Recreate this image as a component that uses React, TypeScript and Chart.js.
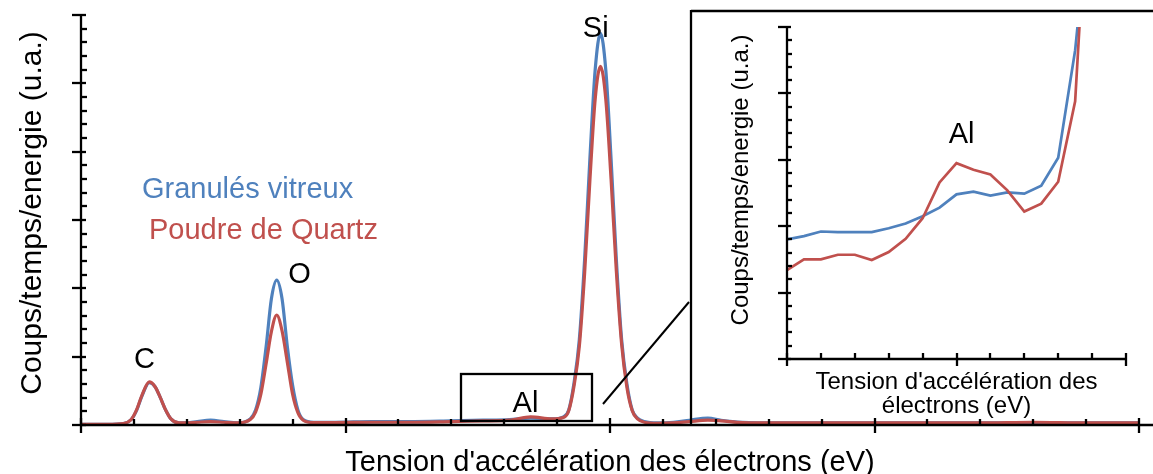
import React, { useEffect, useRef } from "react";
import { Chart, registerables } from "chart.js";

Chart.register(...registerables);

// ---------- data (main spectrum) ----------
const energy = [
  0, 0.5, 0.8, 0.95, 1.05, 1.15, 1.29, 1.4, 1.5, 1.6,
  1.7, 1.85, 2.0, 2.2, 2.45, 2.7, 2.95, 3.2, 3.3, 3.4,
  3.5, 3.6, 3.7, 3.8, 3.9, 4.0, 4.1, 4.2, 4.4, 4.8,
  5.5, 6.2, 7.0, 7.6, 8.1, 8.5, 8.9, 9.12, 9.22, 9.32,
  9.42, 9.52, 9.62, 9.72, 9.82, 9.92, 10.02, 10.12, 10.22, 10.32,
  10.42, 10.52, 10.65, 10.9, 11.2, 11.5, 11.85, 12.1, 12.5, 13.2,
  14, 15, 16, 17, 18, 19, 20,
];
const granulesVitreux = [
  0.01, 0.01, 0.02, 0.08, 0.21, 0.42, 0.62, 0.56, 0.40, 0.22,
  0.09, 0.03, 0.03, 0.05, 0.07, 0.05, 0.03, 0.09, 0.22, 0.55,
  1.15, 1.85, 2.12, 1.85, 1.15, 0.58, 0.22, 0.08, 0.04, 0.04,
  0.05, 0.05, 0.06, 0.07, 0.08, 0.10, 0.09, 0.12, 0.22, 0.62,
  1.25, 2.42, 3.9, 5.2, 5.73, 5.2, 3.9, 2.42, 1.25, 0.6,
  0.22, 0.1, 0.05, 0.03, 0.04, 0.07, 0.1, 0.07, 0.04, 0.03,
  0.03, 0.03, 0.03, 0.03, 0.03, 0.03, 0.03,
];
const poudreQuartz = [
  0.01, 0.01, 0.02, 0.08, 0.22, 0.43, 0.63, 0.56, 0.40, 0.22,
  0.09, 0.03, 0.03, 0.04, 0.05, 0.04, 0.03, 0.08, 0.19, 0.45,
  0.90, 1.37, 1.61, 1.38, 0.92, 0.45, 0.18, 0.07, 0.035, 0.035,
  0.04, 0.04, 0.05, 0.06, 0.07, 0.12, 0.09, 0.11, 0.21, 0.57,
  1.15, 2.22, 3.58, 4.77, 5.25, 4.77, 3.6, 2.25, 1.18, 0.55,
  0.21, 0.09, 0.04, 0.025, 0.03, 0.05, 0.07, 0.06, 0.035, 0.03,
  0.03, 0.03, 0.03, 0.03, 0.04, 0.03, 0.03,
];

// ---------- data (inset, Al region) ----------
const insetEnergy = [0, 0.5, 1, 1.5, 2, 2.5, 3, 3.5, 4, 4.5, 5, 5.5, 6, 6.5, 7, 7.5, 8, 8.5, 9];
const insetGranules = [1.80, 1.85, 1.92, 1.91, 1.91, 1.91, 1.97, 2.04, 2.15, 2.28, 2.48, 2.52, 2.46, 2.51, 2.49, 2.61, 3.03, 4.65, 7.2];
const insetQuartz = [1.34, 1.50, 1.50, 1.57, 1.57, 1.49, 1.61, 1.81, 2.12, 2.66, 2.95, 2.85, 2.78, 2.54, 2.22, 2.34, 2.67, 3.88, 8.3];

// peak labels in data coordinates (main chart)
const peakNames = ["C", "O", "Si"];
const peakX = [1.2, 4.13, 9.73];
const peakY = [0.83, 2.08, 5.68];

const seriesNames = ["Granulés vitreux", "Poudre de Quartz"];
const xTitle = "Tension d'accélération des électrons (eV)";
const yTitle = "Coups/temps/energie (u.a.)";
const insetXTitle = ["Tension d'accélération des", "électrons (eV)"];

// zoom rectangle in main data coordinates
const zoomBox = { x0: 7.18, x1: 9.66, y0: 0.063, y1: 0.746 };

const W = 1153;
const H = 474;
const BLUE = "#4F81BD";
const RED = "#C0504D";
const FONT = "'Liberation Sans', Arial, Helvetica, sans-serif";
const AXIS_W = 2.3;

function line(ctx: CanvasRenderingContext2D, x1: number, y1: number, x2: number, y2: number) {
  ctx.beginPath();
  ctx.moveTo(x1, y1);
  ctx.lineTo(x2, y2);
  ctx.stroke();
}

function drawAxes(
  ctx: CanvasRenderingContext2D,
  chart: any,
  o: {
    xMax: number; xMinorN: number; xMajorEvery: number;
    yMax: number; yMinorN: number; yMajorEvery: number;
    yMajOut: number; yMajIn: number; yMinIn: number;
    xMajUp: number; xMajDown: number; xMinUp: number;
    xAxisExtendRight: number;
  }
) {
  const a = chart.chartArea;
  const xs = chart.scales.x;
  const ys = chart.scales.y;
  ctx.save();
  ctx.strokeStyle = "#000";
  ctx.lineWidth = AXIS_W;
  ctx.lineCap = "butt";
  line(ctx, a.left, a.top - 1, a.left, a.bottom + 1);
  line(ctx, a.left - 1, a.bottom, o.xAxisExtendRight, a.bottom);
  const yStep = o.yMax / o.yMinorN;
  for (let i = 0; i <= o.yMinorN; i++) {
    const py = Math.round(ys.getPixelForValue(i * yStep));
    if (i % o.yMajorEvery === 0) line(ctx, a.left - o.yMajOut, py, a.left + o.yMajIn, py);
    else line(ctx, a.left, py, a.left + o.yMinIn, py);
  }
  const xStep = o.xMax / o.xMinorN;
  for (let i = 0; i <= o.xMinorN; i++) {
    const px = Math.round(xs.getPixelForValue(i * xStep));
    if (i % o.xMajorEvery === 0) line(ctx, px, a.bottom - o.xMajUp, px, a.bottom + o.xMajDown);
    else line(ctx, px, a.bottom - o.xMinUp, px, a.bottom);
  }
  ctx.restore();
}

function rotatedText(ctx: CanvasRenderingContext2D, text: string, x: number, y: number) {
  ctx.save();
  ctx.translate(x, y);
  ctx.rotate(-Math.PI / 2);
  ctx.textAlign = "center";
  ctx.textBaseline = "alphabetic";
  ctx.fillText(text, 0, 0);
  ctx.restore();
}

const mainDecor = {
  id: "mainDecor",
  afterDraw(chart: any) {
    const ctx: CanvasRenderingContext2D = chart.ctx;
    const a = chart.chartArea;
    const xs = chart.scales.x;
    const ys = chart.scales.y;
    drawAxes(ctx, chart, {
      xMax: 20, xMinorN: 20, xMajorEvery: 5,
      yMax: 6, yMinorN: 30, yMajorEvery: 5,
      yMajOut: 9, yMajIn: 5, yMinIn: 6,
      xMajUp: 7, xMajDown: 8, xMinUp: 6,
      xAxisExtendRight: W,
    });
    ctx.save();
    ctx.fillStyle = "#000";
    ctx.font = `29px ${FONT}`;
    ctx.textAlign = "center";
    ctx.textBaseline = "alphabetic";
    ctx.fillText(xTitle, (a.left + a.right) / 2, 471);
    ctx.font = `30px ${FONT}`;
    rotatedText(ctx, yTitle, 41, 213);
    ctx.font = `29px ${FONT}`;
    // peak labels
    for (let i = 0; i < peakNames.length; i++) {
      ctx.fillText(peakNames[i], xs.getPixelForValue(peakX[i]), ys.getPixelForValue(peakY[i]));
    }
    // legend-like texts
    ctx.textAlign = "left";
    ctx.fillStyle = BLUE;
    ctx.fillText(seriesNames[0], 142, 198);
    ctx.fillStyle = RED;
    ctx.fillText(seriesNames[1], 149, 239);
    // zoom rectangle + Al
    ctx.strokeStyle = "#000";
    ctx.lineWidth = AXIS_W;
    const rx0 = Math.round(xs.getPixelForValue(zoomBox.x0));
    const rx1 = Math.round(xs.getPixelForValue(zoomBox.x1));
    const ry0 = Math.round(ys.getPixelForValue(zoomBox.y0));
    const ry1 = Math.round(ys.getPixelForValue(zoomBox.y1));
    ctx.strokeRect(rx0, ry1, rx1 - rx0, ry0 - ry1);
    ctx.fillStyle = "#000";
    ctx.textAlign = "center";
    ctx.fillText("Al", (rx0 + rx1) / 2 - 1, ry0 - 9);
    // connector to inset
    ctx.lineWidth = 2;
    line(ctx, rx1 + 11, ry0 - 17, 689, 302);
    // inset frame
    ctx.lineWidth = AXIS_W;
    line(ctx, 691, 11, W, 11);
    line(ctx, 691, 10, 691, a.bottom);
    ctx.restore();
  },
};

const insetDecor = {
  id: "insetDecor",
  afterDraw(chart: any) {
    const ctx: CanvasRenderingContext2D = chart.ctx;
    const a = chart.chartArea;
    drawAxes(ctx, chart, {
      xMax: 10, xMinorN: 10, xMajorEvery: 5,
      yMax: 5, yMinorN: 25, yMajorEvery: 5,
      yMajOut: 9, yMajIn: 4, yMinIn: 5,
      xMajUp: 6, xMajDown: 7, xMinUp: 6,
      xAxisExtendRight: a.right + 1,
    });
    ctx.save();
    ctx.fillStyle = "#000";
    ctx.font = `24px ${FONT}`;
    ctx.textAlign = "center";
    ctx.textBaseline = "alphabetic";
    const cx = (a.left + a.right) / 2;
    ctx.fillText(insetXTitle[0], cx, 389);
    ctx.fillText(insetXTitle[1], cx, 413);
    rotatedText(ctx, yTitle, 748, 180);
    ctx.font = `29px ${FONT}`;
    ctx.fillText("Al", chart.scales.x.getPixelForValue(5.15), chart.scales.y.getPixelForValue(3.25));
    ctx.restore();
  },
};

export default function App() {
  const mainRef = useRef<HTMLCanvasElement>(null);
  const insetRef = useRef<HTMLCanvasElement>(null);

  useEffect(() => {
    const common = {
      responsive: false,
      animation: false as const,
      devicePixelRatio: 1,
      events: [] as any[],
      plugins: { legend: { display: false }, tooltip: { enabled: false }, title: { display: false } },
      elements: { point: { radius: 0 } },
    };

    const main = new Chart(mainRef.current!, {
      type: "line",
      data: {
        datasets: [
          {
            label: seriesNames[1],
            data: energy.map((e, i) => ({ x: e, y: poudreQuartz[i] })),
            borderColor: RED,
            borderWidth: 3.2,
            cubicInterpolationMode: "monotone",
            order: 0,
          },
          {
            label: seriesNames[0],
            data: energy.map((e, i) => ({ x: e, y: granulesVitreux[i] })),
            borderColor: BLUE,
            borderWidth: 3.2,
            cubicInterpolationMode: "monotone",
            order: 1,
          },
        ],
      },
      options: {
        ...common,
        layout: { padding: { left: 81, right: 14, top: 15, bottom: 49 } },
        scales: {
          x: { type: "linear", min: 0, max: 20, display: false },
          y: { type: "linear", min: 0, max: 6, display: false },
        },
      } as any,
      plugins: [mainDecor],
    });

    const inset = new Chart(insetRef.current!, {
      type: "line",
      data: {
        datasets: [
          {
            label: seriesNames[1],
            data: insetEnergy.map((e, i) => ({ x: e, y: insetQuartz[i] })),
            borderColor: RED,
            borderWidth: 2.7,
            tension: 0,
            clip: 0,
            order: 0,
          },
          {
            label: seriesNames[0],
            data: insetEnergy.map((e, i) => ({ x: e, y: insetGranules[i] })),
            borderColor: BLUE,
            borderWidth: 2.7,
            tension: 0,
            clip: 0,
            order: 1,
          },
        ],
      },
      options: {
        ...common,
        layout: { padding: { left: 787, right: 27, top: 27, bottom: 115 } },
        scales: {
          x: { type: "linear", min: 0, max: 10, display: false },
          y: { type: "linear", min: 0, max: 5, display: false },
        },
      } as any,
      plugins: [insetDecor],
    });

    return () => {
      main.destroy();
      inset.destroy();
    };
  }, []);

  const cs: React.CSSProperties = { position: "absolute", left: 0, top: 0, width: W, height: H };
  return (
    <div style={{ position: "absolute", left: 0, top: 0, width: W, height: H, background: "#fff" }}>
      <canvas ref={mainRef} width={W} height={H} style={cs} />
      <canvas ref={insetRef} width={W} height={H} style={cs} />
    </div>
  );
}
